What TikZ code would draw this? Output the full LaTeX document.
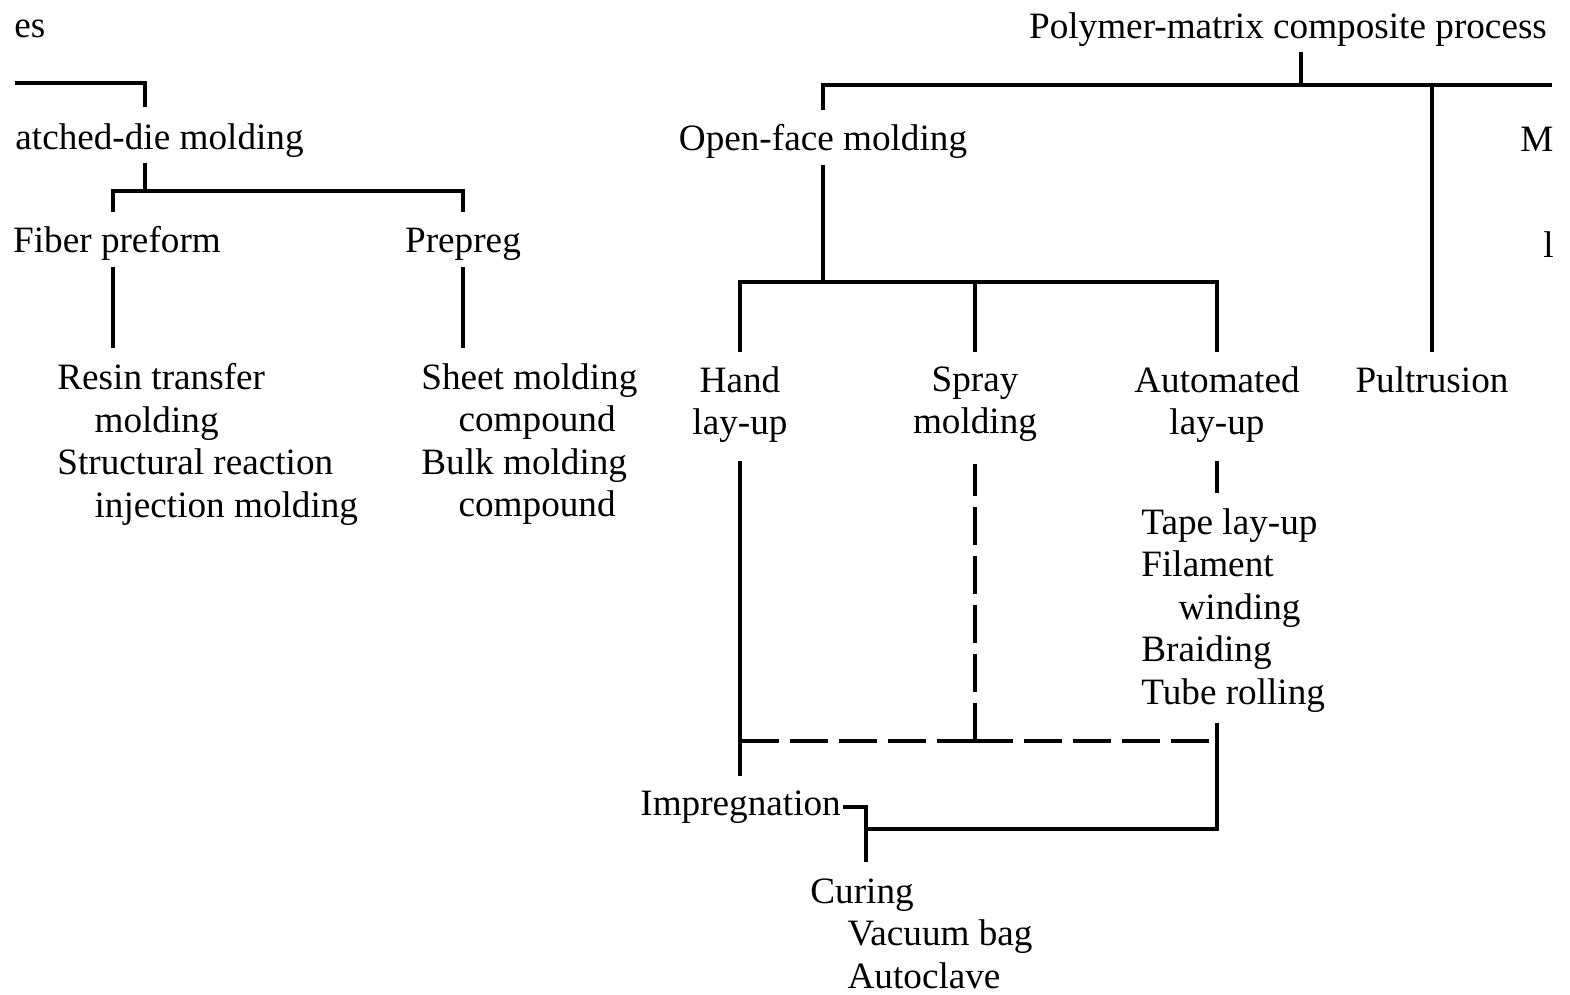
\documentclass[tikz,border=0pt]{standalone}
\usepackage{fontspec}
\setmainfont{Liberation Serif}
\usepackage{tikz}
\usetikzlibrary{positioning}
\newcommand{\lblfont}{\fontsize{18.6}{21.25}\selectfont}

\begin{document}
\begin{tikzpicture}[
x=0.5pt,
y=-0.5pt,
every node/.style={font=\lblfont,inner sep=0pt,execute at begin node=\strut},
item/.style={align=center,anchor=north},
list/.style={align=left,anchor=north west},
ln/.style={line width=1.7pt},
dln/.style={line width=1.7pt,dash pattern=on 19pt off 5.5pt}
]
\useasboundingbox (0,0) rectangle (1570,995);
\fill[white] (0,0) rectangle (1570,995);

\node[anchor=base west] (es) at (14,38) {es};
\node[anchor=base west] (mdm) at (15,150) {atched-die molding};
\node[anchor=base] (fib) at (117,252) {Fiber preform};
\node[anchor=base] (pre) at (463,252) {Prepreg};
\node[list] (rtm) at (57,363) {Resin transfer\\\hspace*{1em}molding\\Structural reaction\\\hspace*{1em}injection molding};
\node[list] (smc) at (421,363) {Sheet molding\\\hspace*{1em}compound\\Bulk molding\\\hspace*{1em}compound};

\node[anchor=base] (pmc) at (1288,39) {Polymer-matrix composite process};
\node[anchor=base] (ofm) at (823,151) {Open-face molding};
\node[anchor=base west] (mcut) at (1520,152) {M};
\node[anchor=base west] (lcut) at (1543,257) {l};
\node[item] (hand) at (740,366) {Hand\\lay-up};
\node[item] (spray) at (975,366) {Spray\\molding};
\node[item] (auto) at (1217,366) {Automated\\lay-up};
\node[anchor=base] (pul) at (1432,392) {Pultrusion};
\node[list] (tape) at (1141,508) {Tape lay-up\\Filament\\\hspace*{1em}winding\\Braiding\\Tube rolling};
\node[anchor=base west] (imp) at (640,815) {Impregnation};
\node[list] (cur) at (810,878) {Curing\\\hspace*{1em}Vacuum bag\\\hspace*{1em}Autoclave};

\coordinate (tl) at (15,83);
\coordinate (mdj) at (145,83);
\coordinate (mdbus) at (145,191);
\coordinate (fibj) at (113,191);
\coordinate (prej) at (463,191);
\coordinate (pmcj) at (1301,85);
\coordinate (busL) at (823,85);
\coordinate (busR) at (1552,85);
\coordinate (pulj) at (1432,85);
\coordinate (ofbus) at (823,282);
\coordinate (handj) at (740,282);
\coordinate (autoj) at (1217,282);
\coordinate (dj) at (975,741);
\coordinate (autob) at (1217,829);
\coordinate (impj) at (866,807);

\draw[ln,shorten >=6.5pt] (tl) -| (mdj |- mdm.north);
\draw[ln] (mdj |- mdm.south) -- (mdbus);
\draw[ln,shorten <=5pt,shorten >=5pt] (fibj |- fib.north) -- (fibj) -- (prej) -- (prej |- pre.north);
\draw[ln,shorten <=1pt,shorten >=7.5pt] (fibj |- fib.south) -- (fibj |- rtm.north);
\draw[ln,shorten <=1pt,shorten >=7.5pt] (prej |- pre.south) -- (prej |- smc.north);

\draw[ln] (pmcj |- pmc.south) -- (pmcj);
\draw[ln,shorten >=5.5pt] (busR) -- (busL) -- (ofm.north);
\draw[ln,shorten >=5pt] (pulj) -- (pul.north);
\draw[ln,shorten <=0.5pt] (ofm.south) -- (ofbus);
\draw[ln,shorten <=7pt,shorten >=7pt] (hand.north) -- (handj) -- (autoj) -- (auto.north);
\draw[ln,shorten >=7pt] (spray.north |- ofbus) -- (spray.north);

\draw[ln,shorten <=6.5pt,shorten >=4.5pt] (hand.south) -- (hand.south |- imp.north);
\draw[dln,shorten >=8.5pt] (dj) -- (spray.south);
\draw[dln] (dj) -- (dj -| hand.south);
\draw[dln] (dj) -- (dj -| auto.south);
\draw[ln,shorten <=6.5pt,shorten >=7.5pt] (auto.south) -- (auto.south |- tape.north);
\draw[ln,shorten <=3pt] (autob |- tape.south) -- (autob) -- (autob -| impj);
\draw[ln,shorten <=1pt,shorten >=8pt] (imp.east |- impj) -- (impj) -- (impj |- cur.north);
\end{tikzpicture}
\end{document}
